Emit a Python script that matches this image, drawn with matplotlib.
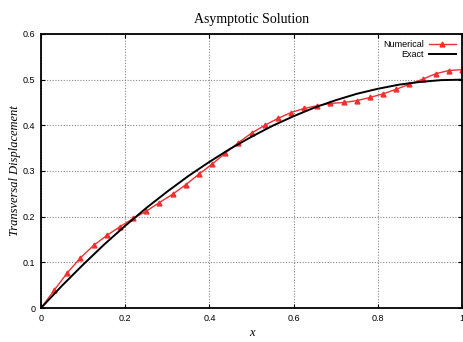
import numpy as np
import matplotlib.pyplot as plt

# Numerical solution (33 nodes)
x_num = np.linspace(0, 1, 33)
y_num = [0.000, 0.039, 0.077, 0.110, 0.137, 0.159, 0.178, 0.196, 0.212,
         0.231, 0.249, 0.270, 0.293, 0.315, 0.339, 0.362, 0.383, 0.400,
         0.415, 0.428, 0.437, 0.443, 0.448, 0.450, 0.454, 0.461, 0.469,
         0.479, 0.490, 0.501, 0.513, 0.520, 0.522]

# Exact solution
x_ex = np.linspace(0, 1, 21)
y_ex = [0.000, 0.049, 0.095, 0.139, 0.180, 0.219, 0.255, 0.289, 0.320,
        0.349, 0.375, 0.399, 0.420, 0.439, 0.455, 0.469, 0.480, 0.489,
        0.495, 0.499, 0.500]

xticks = [0, 0.2, 0.4, 0.6, 0.8, 1]
xticklabels = ['0', '0.2', '0.4', '0.6', '0.8', '1']
yticks = [0, 0.1, 0.2, 0.3, 0.4, 0.5, 0.6]
yticklabels = ['0', '0.1', '0.2', '0.3', '0.4', '0.5', '0.6']

plt.rcParams['font.family'] = ['Liberation Sans', 'DejaVu Sans']

fig = plt.figure(figsize=(4.64, 3.42), dpi=100)
ax = fig.add_axes([0.0884, 0.0994, 0.9073, 0.8012])

ax.plot(x_num, y_num, color='#f03030', lw=1.0, marker='^', ms=3.5,
        label='Numerical')
ax.plot(x_ex, y_ex, color='black', lw=1.4, label='Exact')

ax.set_xlim(0, 1)
ax.set_ylim(0, 0.6)
ax.set_xticks(xticks)
ax.set_xticklabels(xticklabels)
ax.set_yticks(yticks)
ax.set_yticklabels(yticklabels)
ax.tick_params(axis='both', direction='in', labelsize=6.5, length=3,
               top=True, right=True, pad=4)
ax.grid(True, color='#888888', linestyle=(0, (1, 1.5)), lw=0.8)
for s in ax.spines.values():
    s.set_linewidth(1.3)

ax.set_title('Asymptotic Solution', family='Liberation Serif', fontsize=10,
             pad=8)
ax.set_xlabel('x', family='Liberation Serif', style='italic', fontsize=9,
              labelpad=3)
ax.set_ylabel('Transversal Displacement', family='Liberation Serif',
              style='italic', fontsize=9, labelpad=1)

leg = ax.legend(loc='upper right', frameon=False, markerfirst=False,
                fontsize=6.5, handlelength=3, borderaxespad=0.3,
                labelspacing=0.1, handletextpad=0.5)
for t in leg.get_texts():
    t.set_ha('right')

fig.savefig('out.png', dpi=100)
